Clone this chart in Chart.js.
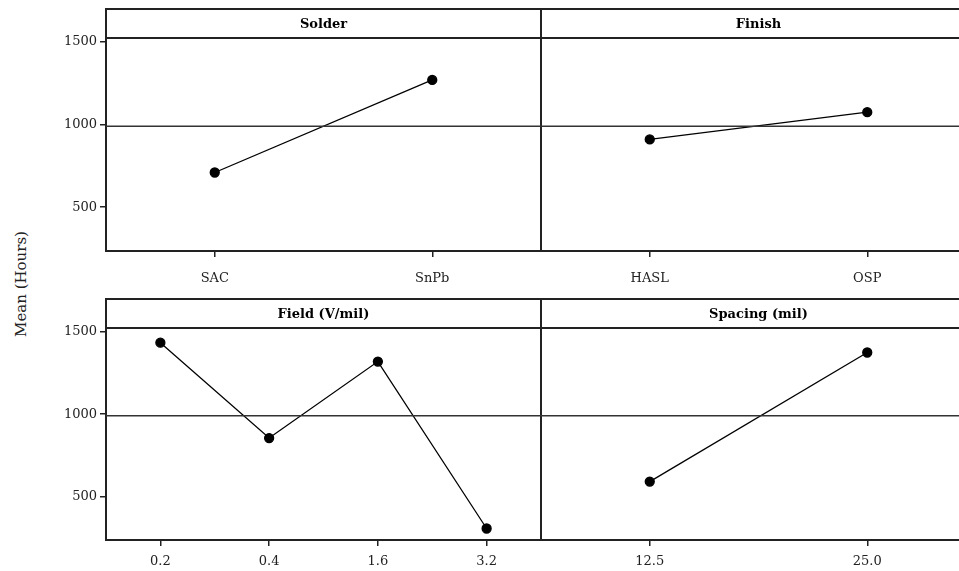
<!DOCTYPE html>
<html>
<head>
<meta charset="utf-8">
<script src="https://cdn.jsdelivr.net/npm/chart.js@4.4.1/dist/chart.umd.min.js"></script>
<style>
  html, body { margin: 0; padding: 0; background: #fff; }
  body { width: 959px; height: 571px; position: relative; overflow: hidden; }
  .panel { position: absolute; }
  #ylab {
    position: absolute; left: 21px; top: 284px;
    transform: translate(-50%, -50%) rotate(-90deg);
    font: 15px "DejaVu Serif", serif; color: #222; white-space: nowrap;
  }
</style>
</head>
<body>
<div id="ylab">Mean (Hours)</div>
<div class="panel" style="left:0;top:0;width:541px;height:292px"><canvas id="solder"></canvas></div>
<div class="panel" style="left:541px;top:0;width:435px;height:292px"><canvas id="finish"></canvas></div>
<div class="panel" style="left:0;top:290px;width:541px;height:281px"><canvas id="field"></canvas></div>
<div class="panel" style="left:541px;top:290px;width:435px;height:281px"><canvas id="spacing"></canvas></div>
<script>
  // Haupteffekte: Mittelwert (Stunden) je Faktorstufe
  const solderLevels = ['SAC', 'SnPb'];
  const solderMeans = [710, 1270];

  const finishLevels = ['HASL', 'OSP'];
  const finishMeans = [910, 1075];

  const fieldLevels = ['0.2', '0.4', '1.6', '3.2'];
  const fieldMeans = [1435, 855, 1320, 305];

  const spacingLevels = ['12.5', '25.0'];
  const spacingMeans = [590, 1375];

  const yTicks = [500, 1000, 1500];
  const grandMean = 990;   // Referenzlinie (Gesamtmittel)
  const Y_MIN = 235, Y_MAX = 1524;

  const STRIP_H = 29;
  const serif = '"DejaVu Serif", serif';

  // Rahmen, Titelleiste und Mittelwertlinie
  const framePlugin = {
    id: 'frame',
    afterDraw(chart, args, opts) {
      const { ctx, chartArea: a } = chart;
      const y = chart.scales.y;
      ctx.save();
      ctx.strokeStyle = '#222';
      ctx.lineWidth = 2;
      ctx.strokeRect(a.left, a.top - STRIP_H, a.right - a.left, a.bottom - a.top + STRIP_H);
      ctx.beginPath();
      ctx.moveTo(a.left, a.top);
      ctx.lineTo(a.right, a.top);
      ctx.stroke();
      // Gesamtmittel
      const my = y.getPixelForValue(grandMean);
      ctx.lineWidth = 1.5;
      ctx.strokeStyle = '#333';
      ctx.beginPath();
      ctx.moveTo(a.left, my);
      ctx.lineTo(a.right, my);
      ctx.stroke();
      // Titel
      ctx.fillStyle = '#000';
      ctx.font = 'bold 13px ' + serif;
      ctx.textAlign = 'center';
      ctx.textBaseline = 'middle';
      ctx.fillText(opts.title, (a.left + a.right) / 2, a.top - STRIP_H / 2 + 1);
      ctx.restore();
    }
  };

  function makePanel(id, labels, values, title, showY, xPad, xHeight) {
    new Chart(document.getElementById(id), {
      type: 'line',
      data: {
        labels,
        datasets: [{
          data: values,
          borderColor: '#000',
          borderWidth: 1.3,
          pointRadius: 4.5,
          pointBackgroundColor: '#000',
          pointBorderColor: '#000',
          tension: 0
        }]
      },
      plugins: [framePlugin],
      options: {
        responsive: true,
        maintainAspectRatio: false,
        animation: false,
        layout: { autoPadding: false, padding: { top: 38, left: 0, right: 0, bottom: 0 } },
        plugins: {
          legend: { display: false },
          tooltip: { enabled: false },
          frame: { title }
        },
        scales: {
          x: {
            type: 'category',
            offset: true,
            border: { display: false },
            grid: { drawOnChartArea: false, drawTicks: true, tickLength: 6, color: '#222', lineWidth: 1.5, offset: false },
            ticks: { color: '#222', padding: xPad, font: { family: serif, size: 13 }, maxRotation: 0 },
            afterFit: (s) => { s.height = xHeight; s.paddingLeft = 0; s.paddingRight = 0; }
          },
          y: {
            display: showY,
            min: Y_MIN,
            max: Y_MAX,
            border: { display: false },
            grid: { drawOnChartArea: false, drawTicks: true, tickLength: 6, color: '#222', lineWidth: 1.5 },
            ticks: {
              color: '#222', padding: 3, font: { family: serif, size: 13 },
              callback: (v) => String(v)
            },
            afterBuildTicks: (s) => { s.ticks = yTicks.map(v => ({ value: v })); },
            afterFit: (s) => { s.width = showY ? 106 : 0; s.paddingTop = 0; s.paddingBottom = 0; }
          }
        }
      }
    });
  }

  makePanel('solder', solderLevels, solderMeans, 'Solder', true, 14, 41);
  makePanel('finish', finishLevels, finishMeans, 'Finish', false, 14, 41);
  makePanel('field', fieldLevels, fieldMeans, 'Field (V/mil)', true, 8, 31);
  makePanel('spacing', spacingLevels, spacingMeans, 'Spacing (mil)', false, 8, 31);
</script>
</body>
</html>
